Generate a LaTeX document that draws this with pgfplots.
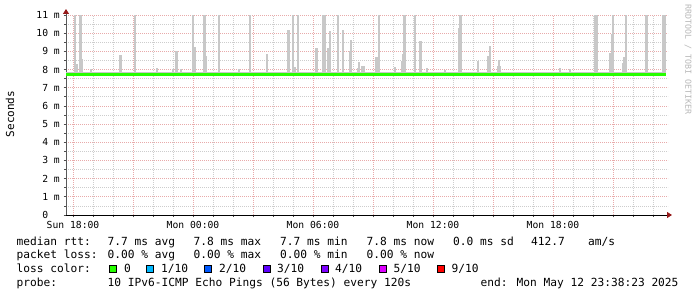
\documentclass[border=0pt]{standalone}
\usepackage{pgfplots}
\pgfplotsset{compat=1.18}
\usepackage{pgfplotstable}
\usepackage{fontspec}
\usetikzlibrary{arrows.meta}
\newfontfamily\mono{DejaVu Sans Mono}
\definecolor{smoke}{RGB}{200,200,200}
\definecolor{loss0}{RGB}{38,255,0}
\definecolor{loss1}{RGB}{0,184,255}
\definecolor{loss2}{RGB}{0,89,255}
\definecolor{loss3}{RGB}{94,0,255}
\definecolor{loss4}{RGB}{126,0,255}
\definecolor{loss5}{RGB}{221,0,255}
\definecolor{loss9}{RGB}{255,0,0}
\definecolor{mgrid}{RGB}{232,170,170}
\definecolor{ngrid}{RGB}{205,205,205}
\definecolor{arrowred}{RGB}{150,25,25}
\definecolor{wmark}{RGB}{185,185,185}

\pgfplotstableread{
x y
-5.9 7.7
-5.9 11
-5.9 nan
-5.85 7.7
-5.85 8.3
-5.85 nan
-5.8 7.7
-5.8 8.3
-5.8 nan
-5.65 7.7
-5.65 11
-5.65 nan
-5.6 7.7
-5.6 11
-5.6 nan
-5.55 7.7
-5.55 8.6
-5.55 nan
-5.1 7.7
-5.1 8.05
-5.1 nan
-3.65 7.7
-3.65 8.82
-3.65 nan
-3.6 7.7
-3.6 8.82
-3.6 nan
-2.9 7.7
-2.9 11
-2.9 nan
-1.8 7.7
-1.8 8.1
-1.8 nan
-1.0 7.7
-1.0 8.05
-1.0 nan
-0.85 7.7
-0.85 9.0
-0.85 nan
-0.8 7.7
-0.8 9.0
-0.8 nan
-0.6 7.7
-0.6 8.05
-0.6 nan
0 7.7
0 11
0 nan
0.05 7.7
0.05 9.22
0.05 nan
0.1 7.7
0.1 9.22
0.1 nan
0.55 7.7
0.55 11
0.55 nan
0.6 7.7
0.6 11
0.6 nan
0.65 7.7
0.65 8.76
0.65 nan
1.3 7.7
1.3 11
1.3 nan
2.3 7.7
2.3 8.05
2.3 nan
2.85 7.7
2.85 11
2.85 nan
3.7 7.7
3.7 8.86
3.7 nan
4.75 7.7
4.75 10.17
4.75 nan
4.8 7.7
4.8 10.17
4.8 nan
5.0 7.7
5.0 11
5.0 nan
5.1 7.7
5.1 8.15
5.1 nan
5.25 7.7
5.25 11
5.25 nan
6.15 7.7
6.15 9.19
6.15 nan
6.2 7.7
6.2 9.19
6.2 nan
6.5 7.7
6.5 11
6.5 nan
6.55 7.7
6.55 11
6.55 nan
6.6 7.7
6.6 11
6.6 nan
6.75 7.7
6.75 9.19
6.75 nan
6.8 7.7
6.8 9.19
6.8 nan
6.85 7.7
6.85 10.1
6.85 nan
7.25 7.7
7.25 11
7.25 nan
7.5 7.7
7.5 10.17
7.5 nan
7.85 7.7
7.85 9.0
7.85 nan
7.9 7.7
7.9 9.63
7.9 nan
8.25 7.7
8.25 8.1
8.25 nan
8.3 7.7
8.3 8.4
8.3 nan
8.45 7.7
8.45 8.2
8.45 nan
8.5 7.7
8.5 8.2
8.5 nan
8.55 7.7
8.55 8.2
8.55 nan
9.15 7.7
9.15 8.7
9.15 nan
9.2 7.7
9.2 8.7
9.2 nan
9.3 7.7
9.3 11
9.3 nan
10.1 7.7
10.1 8.15
10.1 nan
10.45 7.7
10.45 8.45
10.45 nan
10.5 7.7
10.5 8.86
10.5 nan
10.55 7.7
10.55 11
10.55 nan
10.6 7.7
10.6 11
10.6 nan
11.1 7.7
11.1 11
11.1 nan
11.35 7.7
11.35 9.59
11.35 nan
11.4 7.7
11.4 9.59
11.4 nan
11.7 7.7
11.7 8.1
11.7 nan
12.6 7.7
12.6 8.0
12.6 nan
13.3 7.7
13.3 10.28
13.3 nan
13.35 7.7
13.35 11
13.35 nan
13.4 7.7
13.4 11
13.4 nan
14.25 7.7
14.25 8.45
14.25 nan
14.75 7.7
14.75 8.76
14.75 nan
14.8 7.7
14.8 8.76
14.8 nan
14.85 7.7
14.85 9.31
14.85 nan
15.25 7.7
15.25 8.18
15.25 nan
15.3 7.7
15.3 8.54
15.3 nan
15.35 7.7
15.35 8.18
15.35 nan
18.35 7.7
18.35 8.1
18.35 nan
18.85 7.7
18.85 8.05
18.85 nan
20.1 7.7
20.1 11
20.1 nan
20.15 7.7
20.15 11
20.15 nan
20.2 7.7
20.2 11
20.2 nan
20.85 7.7
20.85 8.91
20.85 nan
20.95 7.7
20.95 9.95
20.95 nan
21.0 7.7
21.0 11
21.0 nan
21.5 7.7
21.5 8.36
21.5 nan
21.55 7.7
21.55 8.67
21.55 nan
21.65 7.7
21.65 11
21.65 nan
22.65 7.7
22.65 11
22.65 nan
22.7 7.7
22.7 11
22.7 nan
23.5 7.7
23.5 11
23.5 nan
23.55 7.7
23.55 11
23.55 nan
23.6 7.7
23.6 11
23.6 nan
}\spikes

\pgfplotstableread{
x y
-6.35 7.74
-5.5 7.73
-4.8 7.75
-4.0 7.72
-3.2 7.74
-2.4 7.73
-1.5 7.75
-0.7 7.73
0.2 7.74
1.0 7.72
2.0 7.74
3.0 7.73
4.0 7.75
5.0 7.74
6.0 7.73
7.0 7.75
8.0 7.74
9.0 7.73
10.0 7.74
11.0 7.72
12.0 7.74
13.0 7.73
14.0 7.74
15.0 7.72
16.0 7.71
17.0 7.73
18.0 7.72
19.0 7.73
20.0 7.74
21.0 7.73
22.0 7.74
23.0 7.73
23.64 7.73
}\median

\begin{document}
\begin{tikzpicture}[x=1pt,y=1pt]
\useasboundingbox[fill=white] (0,0) rectangle (697,297);
\begin{axis}[
  at={(66pt,82pt)}, anchor=south west,
  scale only axis, width=602pt, height=200pt,
  xmin=-6.35, xmax=23.75, ymin=0, ymax=11,
  axis lines=left,
  axis line style={line width=0.8pt},
  x axis line style={black,shorten >=-4pt,-{Triangle[length=5pt,width=6pt,color=arrowred]}},
  y axis line style={black!65,shorten >=-6pt,-{Triangle[length=5pt,width=6pt,color=arrowred]}},
  xtick={-6,-3,...,21},
  xticklabels={Sun 18:00,,Mon 00:00,,Mon 06:00,,Mon 12:00,,Mon 18:00,},
  minor xtick={-6,...,23},
  ytick={0,...,11},
  yticklabels={0\phantom{ m},1 m,2 m,3 m,4 m,5 m,6 m,7 m,8 m,9 m,10 m,11 m},
  minor ytick={0.5,1.5,...,10.5},
  grid=both,
  major grid style={mgrid, line width=0.7pt, dash pattern=on 1pt off 1pt},
  minor grid style={ngrid, line width=0.7pt, dash pattern=on 1pt off 1pt},
  tick align=outside,
  major tick length=2.5pt, minor tick length=2pt,
  tick style={black!70, line width=0.8pt},
  tick label style={font=\mono\fontsize{9.7}{10}\selectfont, text=black},
  xticklabel style={anchor=north, inner sep=0pt, yshift=-3.5pt},
  yticklabel style={anchor=east, inner sep=0pt, xshift=-3.5pt},
  clip=false,
]
\addplot[smoke, line width=3pt, forget plot] coordinates {(-6.33,7.77) (23.62,7.77)};
\addplot[smoke, line width=1.05pt, unbounded coords=jump, forget plot] table[x=x,y=y] {\spikes};
\addplot[loss0, line width=3pt, const plot, forget plot] table[x=x,y=y] {\median};
\end{axis}

\node[rotate=90, font=\mono\fontsize{11}{12}\selectfont] at (10,183) {Seconds};
\node[rotate=-90, anchor=west, inner sep=0pt, text=wmark, font=\mono\fontsize{8.3}{9}\selectfont] at (688,293) {RRDTOOL / TOBI OETIKER};

\begin{scope}[every node/.style={anchor=base west, inner sep=0pt, font=\mono\fontsize{11.2}{12}\selectfont}]
\node at (16.5,51.8) {median rtt:};
\node at (107.5,51.8) {7.7 ms avg};
\node at (193.5,51.8) {7.8 ms max};
\node at (280,51.8) {7.7 ms min};
\node at (366.5,51.8) {7.8 ms now};
\node at (453,51.8) {0.0 ms sd};
\node at (531,51.8) {412.7};
\node at (588,51.8) {am/s};

\node at (16.5,38) {packet loss:};
\node at (107.5,38) {0.00 \% avg};
\node at (193.5,38) {0.00 \% max};
\node at (280,38) {0.00 \% min};
\node at (366.5,38) {0.00 \% now};

\node at (16.5,24) {loss color:};
\node at (124,24) {0};
\node at (161,24) {1/10};
\node at (219,24) {2/10};
\node at (277,24) {3/10};
\node at (335,24) {4/10};
\node at (393.5,24) {5/10};
\node at (451.5,24) {9/10};

\node at (16.5,10) {probe:};
\node at (107.5,10) {10 IPv6-ICMP Echo Pings (56 Bytes) every 120s};
\node at (480.5,10) {end: Mon May 12 23:38:23 2025};
\end{scope}

\begin{scope}[line width=0.8pt]
\filldraw[fill=loss0, draw=black] (108.9,24.4) rectangle (115.9,31.4);
\filldraw[fill=loss1, draw=black] (146.4,24.4) rectangle (153.4,31.4);
\filldraw[fill=loss2, draw=black] (204.6,24.4) rectangle (211.6,31.4);
\filldraw[fill=loss3, draw=black] (262.9,24.4) rectangle (269.9,31.4);
\filldraw[fill=loss4, draw=black] (321.8,24.4) rectangle (328.8,31.4);
\filldraw[fill=loss5, draw=black] (379.6,24.4) rectangle (386.6,31.4);
\filldraw[fill=loss9, draw=black] (437.6,24.4) rectangle (444.6,31.4);
\end{scope}
\end{tikzpicture}
\end{document}
